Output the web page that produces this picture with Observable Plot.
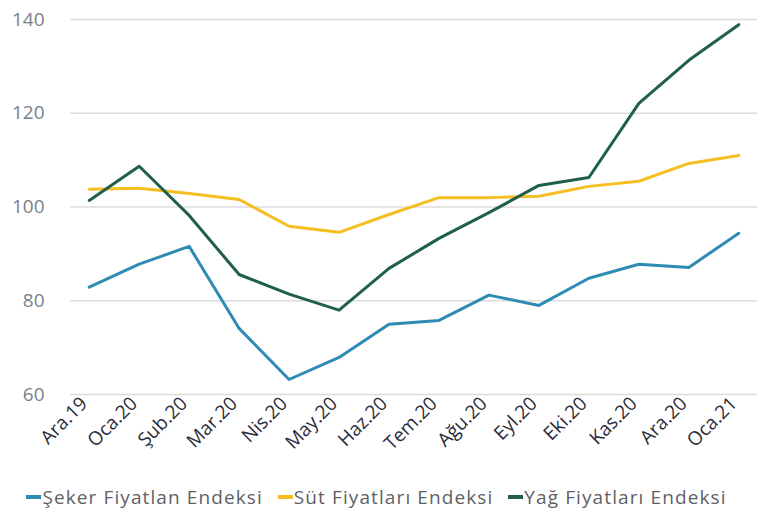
<!DOCTYPE html>
<html>
<head>
<meta charset="utf-8">
<script src="https://cdn.jsdelivr.net/npm/d3@7"></script>
<script src="https://cdn.jsdelivr.net/npm/@observablehq/plot@0.6"></script>
<style>
  html, body { margin: 0; padding: 0; background: #fff; }
  #chart { width: 769px; }
  .legend { display: flex; justify-content: center; gap: 15px; font-family: "Open Sans", sans-serif; font-size: 19px; letter-spacing: 1.1px; color: #5f5f66; margin-top: 14px; position: relative; left: -8px; }
  .legend .item { display: flex; align-items: center; }
  .legend .sw { display: inline-block; width: 15px; height: 4px; margin-right: 1px; }
</style>
</head>
<body>
<div id="chart"></div>
<script>
const months = ["Ara.19","Oca.20","Şub.20","Mar.20","Nis.20","May.20","Haz.20","Tem.20","Ağu.20","Eyl.20","Eki.20","Kas.20","Ara.20","Oca.21"];
const seriesNames = ["Şeker Fiyatlan Endeksi","Süt Fiyatları Endeksi","Yağ Fiyatları Endeksi"];
const seriesColors = ["#2e8bb3","#f5bf22","#1f5f4b"];
const seker = [82.9, 87.8, 91.6, 74.1, 63.2, 67.9, 75.0, 75.8, 81.2, 79.0, 84.8, 87.8, 87.1, 94.4];
const sut   = [103.8, 104.0, 102.9, 101.6, 95.9, 94.6, 98.4, 102.0, 102.0, 102.3, 104.4, 105.5, 109.3, 111.0];
const yag   = [101.4, 108.7, 98.2, 85.6, 81.4, 78.0, 86.9, 93.3, 98.8, 104.6, 106.3, 122.1, 131.3, 138.9];
const yTicks = [60, 80, 100, 120, 140];

const values = [seker, sut, yag];
const data = [];
values.forEach((arr, s) => arr.forEach((v, i) => data.push({month: months[i], value: v, series: seriesNames[s]})));

const plot = Plot.plot({
  width: 769,
  height: 470,
  marginLeft: 70,
  marginRight: 12,
  marginTop: 19,
  marginBottom: 76,
  style: {fontFamily: "'Open Sans', sans-serif", background: "#fff"},
  x: {type: "point", domain: months, padding: 0.375, round: false, label: null},
  y: {domain: [60, 140], label: null},
  color: {domain: seriesNames, range: seriesColors},
  marks: [
    Plot.ruleY(yTicks, {stroke: "#dcdcdc", strokeWidth: 1.5}),
    Plot.axisY({ticks: yTicks, tickSize: 0, tickPadding: 26, fontSize: 19, color: "#7a7f88", label: null}),
    Plot.axisX({tickSize: 0, tickRotate: -45, tickPadding: 6, dx: -5, fontSize: 19, color: "#2b2b3b", label: null}),
    Plot.line(data, {x: "month", y: "value", z: "series", stroke: "series", strokeWidth: 3, curve: "linear"})
  ]
});
document.getElementById("chart").appendChild(plot);

const legend = document.createElement("div");
legend.className = "legend";
seriesNames.forEach((n, i) => {
  const it = document.createElement("div");
  it.className = "item";
  const sw = document.createElement("span");
  sw.className = "sw";
  sw.style.background = seriesColors[i];
  const t = document.createElement("span");
  t.textContent = n;
  it.appendChild(sw); it.appendChild(t);
  legend.appendChild(it);
});
document.getElementById("chart").appendChild(legend);
</script>
</body>
</html>
